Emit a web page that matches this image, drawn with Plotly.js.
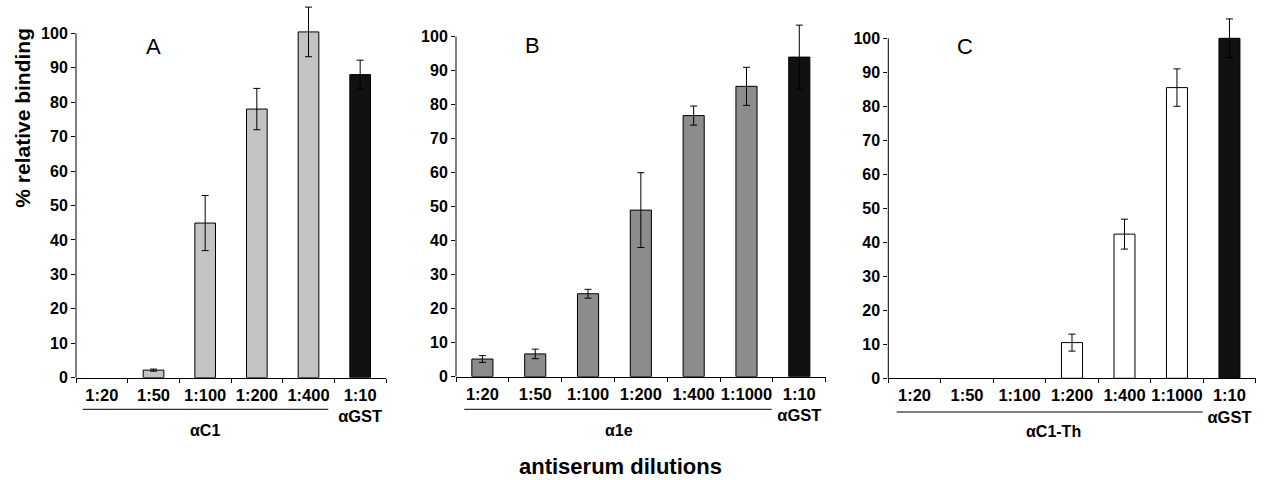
<!DOCTYPE html>
<html>
<head>
<meta charset="utf-8">
<script src="https://cdn.plot.ly/plotly-3.0.1.min.js"></script>
<style>html,body{margin:0;padding:0;background:#fff;}#chart{width:1264px;height:480px;}</style>
</head>
<body>
<div id="chart"></div>
<script>
// ---- data ----
const catsA = ['1:20', '1:50', '1:100', '1:200', '1:400', '1:10<br>αGST'];
const valsA = [null, 2.2, 44.9, 78, 100.4, 88];
const errA  = [null, 0.3, 8, 6, 7.2, 4.2];

const catsB = ['1:20', '1:50', '1:100', '1:200', '1:400', '1:1000', '1:10<br>αGST'];
const valsB = [5.2, 6.7, 24.4, 49, 76.8, 85.4, 94];
const errB  = [1, 1.4, 1.3, 11, 2.8, 5.6, 9.4];

const catsC = ['1:20', '1:50', '1:100', '1:200', '1:400', '1:1000', '1:10<br>αGST'];
const valsC = [null, null, null, 10.5, 42.4, 85.5, 100];
const errC  = [null, null, null, 2.5, 4.4, 5.5, 5.7];

const yTicks = [0, 10, 20, 30, 40, 50, 60, 70, 80, 90, 100];
const panelLetters = ['A', 'B', 'C'];
const groupLabels = ['αC1', 'α1e', 'αC1-Th'];
const yTitle = '% relative binding';
const xTitle = 'antiserum dilutions';

// ---- styling ----
const W = 1264, H = 480;
const FONT = 'Arial, "Liberation Sans", sans-serif';
const px = x => x / W;
const py = y => 1 - y / H;
const gstColor = '#111111';

function colorsFor(cats, base) {
  return cats.map((c, i) => i === cats.length - 1 ? gstColor : base);
}

function barTrace(cats, vals, errs, base, xa, ya) {
  return {
    type: 'bar', x: cats, y: vals, xaxis: xa, yaxis: ya,
    width: 0.4,
    marker: { color: colorsFor(cats, base), line: { color: '#000', width: 1 } },
    error_y: { type: 'data', array: errs, visible: true, color: '#000', thickness: 1, width: 3.5 },
    hoverinfo: 'skip'
  };
}

const data = [
  barTrace(catsA, valsA, errA, '#c3c3c3', 'x', 'y'),
  barTrace(catsB, valsB, errB, '#8c8c8c', 'x2', 'y2'),
  barTrace(catsC, valsC, errC, '#ffffff', 'x3', 'y3')
];

function xAxis(domain, anchor) {
  return {
    domain: domain, anchor: anchor, type: 'category',
    showline: true, linecolor: '#000', linewidth: 1,
    ticks: 'outside', ticklen: 4, tickcolor: '#000', tickson: 'boundaries',
    tickangle: 0, ticklabelstandoff: 2,
    showgrid: false, zeroline: false, fixedrange: true,
    tickfont: { family: FONT, size: 16.5, color: '#000', weight: 'bold' }
  };
}
function yAxis(domain, anchor, top) {
  return {
    domain: domain, anchor: anchor, range: [0, top],
    tickmode: 'array', tickvals: yTicks, ticktext: yTicks.map(String),
    ticks: 'outside', ticklen: 4, tickcolor: '#000',
    showline: false, showgrid: false, zeroline: false, fixedrange: true,
    tickfont: { family: FONT, size: 16, color: '#000', weight: 'bold' }
  };
}

const layout = {
  width: W, height: H,
  margin: { l: 0, r: 0, t: 0, b: 0 },
  paper_bgcolor: '#fff', plot_bgcolor: '#fff',
  showlegend: false,
  xaxis:  xAxis([px(76), px(386)], 'y'),
  yaxis:  yAxis([py(377.7), py(2.3)], 'x', 109),
  xaxis2: xAxis([px(456), px(825.7)], 'y2'),
  yaxis2: yAxis([py(376.7), py(2.7)], 'x2', 110),
  xaxis3: xAxis([px(888.3), px(1255.7)], 'y3'),
  yaxis3: yAxis([py(378.3), py(4.3)], 'x3', 110),
  shapes: [
    // y axis lines 0..100
    { type: 'line', xref: 'x domain', yref: 'y', x0: 0, x1: 0, y0: 0, y1: 100, line: { color: '#000', width: 1 } },
    { type: 'line', xref: 'x2 domain', yref: 'y2', x0: 0, x1: 0, y0: 0, y1: 100, line: { color: '#000', width: 1 } },
    { type: 'line', xref: 'x3 domain', yref: 'y3', x0: 0, x1: 0, y0: 0, y1: 100, line: { color: '#000', width: 1 } },
    // group underlines
    { type: 'line', xref: 'paper', yref: 'paper', x0: px(82.7), x1: px(328.3), y0: py(409.3), y1: py(409.3), line: { color: '#000', width: 1 } },
    { type: 'line', xref: 'paper', yref: 'paper', x0: px(464.3), x1: px(771.7), y0: py(409.3), y1: py(409.3), line: { color: '#000', width: 1 } },
    { type: 'line', xref: 'paper', yref: 'paper', x0: px(896.7), x1: px(1202.7), y0: py(412), y1: py(412), line: { color: '#000', width: 1 } }
  ],
  annotations: [
    { text: panelLetters[0], x: px(153.3), y: py(46.7), xref: 'paper', yref: 'paper', showarrow: false, xanchor: 'center', yanchor: 'middle', font: { family: FONT, size: 22, color: '#000' } },
    { text: panelLetters[1], x: px(532.7), y: py(45), xref: 'paper', yref: 'paper', showarrow: false, xanchor: 'center', yanchor: 'middle', font: { family: FONT, size: 22, color: '#000' } },
    { text: panelLetters[2], x: px(965), y: py(46.7), xref: 'paper', yref: 'paper', showarrow: false, xanchor: 'center', yanchor: 'middle', font: { family: FONT, size: 22, color: '#000' } },
    { text: groupLabels[0], x: px(205), y: py(430), xref: 'paper', yref: 'paper', showarrow: false, xanchor: 'center', yanchor: 'middle', font: { family: FONT, size: 16, color: '#000', weight: 'bold' } },
    { text: groupLabels[1], x: px(619), y: py(430), xref: 'paper', yref: 'paper', showarrow: false, xanchor: 'center', yanchor: 'middle', font: { family: FONT, size: 16, color: '#000', weight: 'bold' } },
    { text: groupLabels[2], x: px(1053.3), y: py(431.7), xref: 'paper', yref: 'paper', showarrow: false, xanchor: 'center', yanchor: 'middle', font: { family: FONT, size: 16, color: '#000', weight: 'bold' } },
    { text: yTitle, x: px(21.7), y: py(118), xref: 'paper', yref: 'paper', showarrow: false, textangle: -90, xanchor: 'center', yanchor: 'middle', font: { family: FONT, size: 21, color: '#000', weight: 'bold' } },
    { text: xTitle, x: px(620), y: py(466.5), xref: 'paper', yref: 'paper', showarrow: false, xanchor: 'center', yanchor: 'middle', font: { family: FONT, size: 22, color: '#000', weight: 'bold' } }
  ]
};

Plotly.newPlot('chart', data, layout, { staticPlot: true, displayModeBar: false });
</script>
</body>
</html>
